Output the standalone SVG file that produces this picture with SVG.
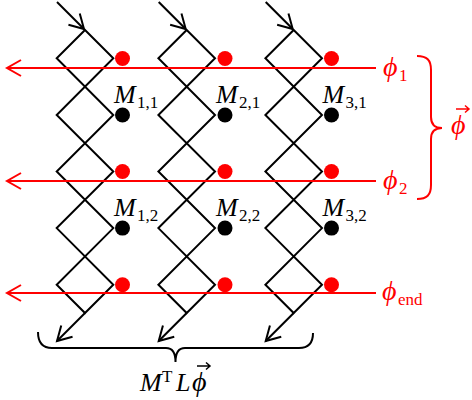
<svg xmlns="http://www.w3.org/2000/svg" width="472" height="400" viewBox="0 0 472 400">
<style>
.blk{fill:none;stroke:#000;stroke-width:2;stroke-linejoin:miter}
.red{fill:none;stroke:#f00;stroke-width:2}
.rd{fill:#f00}
.bd{fill:#000}
.it{font-family:"Liberation Serif","DejaVu Serif",serif;font-style:italic;font-size:26px}
.ph{font-size:28px}
.up{font-family:"Liberation Serif","DejaVu Serif",serif;font-style:normal;font-size:17px}
.rt{fill:#f00}
.acc{fill:none;stroke-width:1.5}
</style>
<defs>
<marker id="ah" markerUnits="userSpaceOnUse" markerWidth="20" markerHeight="20" refX="0" refY="0" orient="auto" overflow="visible">
<path d="M-14,-8 L0,0 L-14,8" fill="none" stroke="#000" stroke-width="2"/>
</marker>
<marker id="ahr" markerUnits="userSpaceOnUse" markerWidth="20" markerHeight="20" refX="0" refY="0" orient="auto" overflow="visible">
<path d="M-14,-8 L0,0 L-14,8" fill="none" stroke="#f00" stroke-width="2"/>
</marker>
<path id="chain" d="M0,30 L28.3,58.3 L-28.3,115 L28.3,171.5 L-28.3,228.1 L28.3,284.7 L0,313 L-28.3,284.7 L28.3,228.1 L-28.3,171.5 L28.3,115 L-28.3,58.3 Z"/>
</defs>

<g id="col1"><use href="#chain" class="blk" x="85"/></g>
<g id="col2"><use href="#chain" class="blk" x="186.7"/></g>
<g id="col3"><use href="#chain" class="blk" x="293.7"/></g>

<g id="connectors">
<path class="blk" d="M57,2 L84,29" marker-end="url(#ah)"/>
<path class="blk" d="M158.7,2 L185.7,29" marker-end="url(#ah)"/>
<path class="blk" d="M265.7,2 L292.7,29" marker-end="url(#ah)"/>
<path class="blk" d="M85,313 L57,341" marker-end="url(#ah)"/>
<path class="blk" d="M186.7,313 L158.7,341" marker-end="url(#ah)"/>
<path class="blk" d="M293.7,313 L265.7,341" marker-end="url(#ah)"/>
<path class="red" d="M376,68 L7,68" marker-end="url(#ahr)"/>
<path class="red" d="M376,181 L7,181" marker-end="url(#ahr)"/>
<path class="red" d="M376,293 L7,293" marker-end="url(#ahr)"/>
</g>

<g id="red-dots">
<circle class="rd" cx="122.5" cy="58.5" r="7.5"/>
<circle class="rd" cx="225" cy="58.5" r="7.5"/>
<circle class="rd" cx="331.5" cy="58.5" r="7.5"/>
<circle class="rd" cx="122.5" cy="171.5" r="7.5"/>
<circle class="rd" cx="225" cy="171.5" r="7.5"/>
<circle class="rd" cx="331.5" cy="171.5" r="7.5"/>
<circle class="rd" cx="122.5" cy="284.7" r="7.5"/>
<circle class="rd" cx="225" cy="284.7" r="7.5"/>
<circle class="rd" cx="331.5" cy="284.7" r="7.5"/>
</g>

<g id="M11"><circle class="bd" cx="122.5" cy="115" r="7.5"/><text x="114" y="103" class="it">M<tspan class="up" x="137" y="107.5">1,1</tspan></text></g>
<g id="M21"><circle class="bd" cx="225" cy="115" r="7.5"/><text x="216" y="103" class="it">M<tspan class="up" x="239" y="107.5">2,1</tspan></text></g>
<g id="M31"><circle class="bd" cx="331.5" cy="115" r="7.5"/><text x="322.5" y="103" class="it">M<tspan class="up" x="345.5" y="107.5">3,1</tspan></text></g>
<g id="M12"><circle class="bd" cx="122.5" cy="228.1" r="7.5"/><text x="114" y="216" class="it">M<tspan class="up" x="137" y="220.5">1,2</tspan></text></g>
<g id="M22"><circle class="bd" cx="225" cy="228.1" r="7.5"/><text x="216" y="216" class="it">M<tspan class="up" x="239" y="220.5">2,2</tspan></text></g>
<g id="M32"><circle class="bd" cx="331.5" cy="228.1" r="7.5"/><text x="322.5" y="216" class="it">M<tspan class="up" x="345.5" y="220.5">3,2</tspan></text></g>

<g id="phi-labels">
<text x="383" y="76" class="it ph rt">ϕ<tspan class="up" x="399" y="81">1</tspan></text>
<text x="383" y="189" class="it ph rt">ϕ<tspan class="up" x="399" y="194">2</tspan></text>
<text x="382" y="300" class="it ph rt">ϕ<tspan class="up" x="398" y="305">end</tspan></text>
</g>

<g id="phi-vector">
<path class="red" d="M417,56 C427,56 431,60 431,70 V117 C431,124 435,128 442,128 C435,128 431,132 431,139 V185 C431,195 427,199 417,199"/>
<text x="451" y="134" class="it ph rt">ϕ</text>
<path class="acc" stroke="#f00" d="M456,109 H469 M465,105.5 L469,109 L465,112.5"/>
</g>

<g id="MTL">
<path class="blk" d="M38,332 C38,342 42,348 52,348 H166 C172,348 175.5,352 175.5,362 C175.5,352 179,348 185,348 H299 C309,348 313,343 313,333"/>
<text x="140" y="391" class="it">M<tspan class="up" x="162" y="382">T</tspan><tspan x="176" y="391">L</tspan><tspan class="ph" x="192" y="391">ϕ</tspan></text>
<path class="acc" stroke="#000" d="M197,366 H210 M206,362.5 L210,366 L206,369.5"/>
</g>
</svg>
